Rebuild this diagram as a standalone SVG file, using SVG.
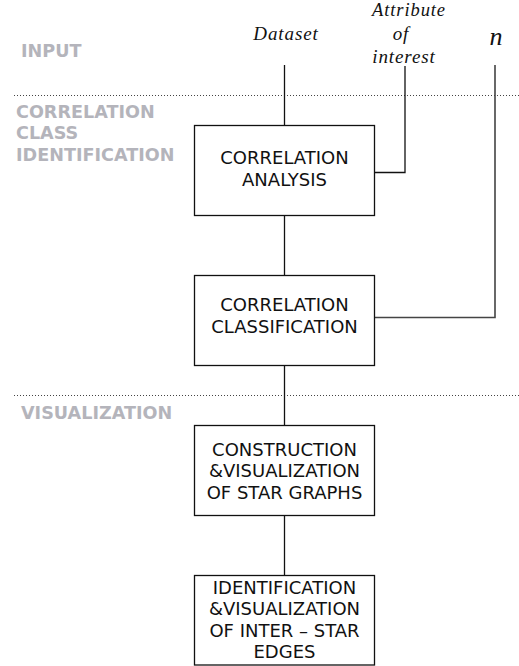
<svg xmlns="http://www.w3.org/2000/svg" width="519" height="666" viewBox="0 0 519 666">
<style>
.stage{font-family:"DejaVu Sans",sans-serif;font-weight:bold;font-size:17.6px;fill:#b4b4bb}
.box{fill:#fff;stroke:#111;stroke-width:1.3}
.bt{font-family:"DejaVu Sans",sans-serif;font-size:18px;fill:#111;text-anchor:middle}
.in{font-family:"Liberation Serif",serif;font-style:italic;font-size:19px;fill:#111;text-anchor:middle;letter-spacing:0.9px}
.sep{stroke:#444;stroke-width:1;stroke-dasharray:1 2}
.c{fill:none;stroke:#111;stroke-width:1.3}
</style>
<rect width="519" height="666" fill="#fff"/>
<g id="stages">
<text class="stage" x="21" y="56.5">INPUT</text>
<text class="stage" x="16" y="117.5">CORRELATION</text>
<text class="stage" x="16" y="139">CLASS</text>
<text class="stage" x="16" y="160.5">IDENTIFICATION</text>
<text class="stage" x="21" y="419">VISUALIZATION</text>
</g>
<g id="separators">
<line class="sep" x1="14" y1="95.5" x2="519" y2="95.5"/>
<line class="sep" x1="14" y1="395.5" x2="519" y2="395.5"/>
</g>
<g id="inputs">
<text class="in" x="286" y="39.5">Dataset</text>
<text class="in" x="409" y="16" style="font-size:18.5px">Attribute</text>
<text class="in" x="401" y="39.5">of</text>
<text class="in" x="404" y="63">interest</text>
<text x="496" y="45" style="font-family:'Liberation Serif',serif;font-style:italic;font-size:26px;fill:#111;text-anchor:middle">n</text>
</g>
<g id="connectors">
<line class="c" x1="284.5" y1="65" x2="284.5" y2="125.5"/>
<polyline class="c" points="405,66 405,172.5 374.5,172.5"/>
<polyline points="495,65 495,317.5 374.5,317.5" fill="none" stroke="#444" stroke-width="1.6"/>
<line class="c" x1="284.5" y1="215.5" x2="284.5" y2="275.5"/>
<line class="c" x1="284.5" y1="365.5" x2="284.5" y2="425.5"/>
<line class="c" x1="284.5" y1="515.5" x2="284.5" y2="575.5"/>
</g>
<g id="correlation-analysis">
<rect class="box" x="194.5" y="125.5" width="180" height="90"/>
<text class="bt" x="284.5" y="164">CORRELATION</text>
<text class="bt" x="284.5" y="185.5">ANALYSIS</text>
</g>
<g id="correlation-classification">
<rect class="box" x="194.5" y="275.5" width="180" height="90"/>
<text class="bt" x="284.5" y="310.5">CORRELATION</text>
<text class="bt" x="284.5" y="332.5">CLASSIFICATION</text>
</g>
<g id="star-graphs">
<rect class="box" x="194.5" y="425.5" width="180" height="90"/>
<text class="bt" x="284.5" y="456">CONSTRUCTION</text>
<text class="bt" x="284.5" y="477">&amp;VISUALIZATION</text>
<text class="bt" x="284.5" y="498.5">OF STAR GRAPHS</text>
</g>
<g id="inter-star-edges">
<rect class="box" x="194.5" y="575.5" width="180" height="89.5"/>
<text class="bt" x="284.5" y="594">IDENTIFICATION</text>
<text class="bt" x="284.5" y="615">&amp;VISUALIZATION</text>
<text class="bt" x="284.5" y="636.5">OF INTER – STAR</text>
<text class="bt" x="284.5" y="658">EDGES</text>
</g>
</svg>
